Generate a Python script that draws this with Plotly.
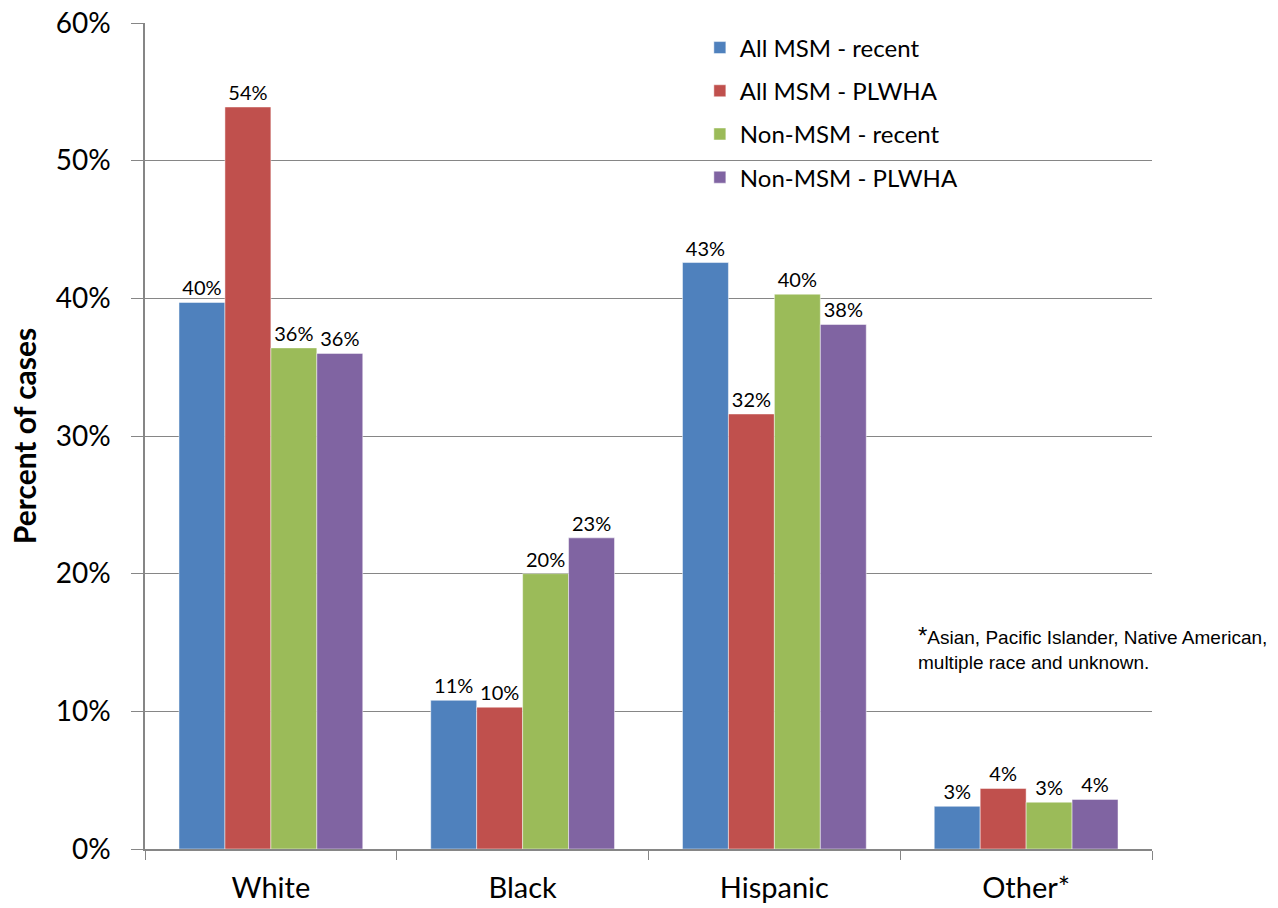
import plotly.graph_objects as go

categories = ["White", "Black", "Hispanic", "Other*"]
series_names = ["All MSM - recent", "All MSM - PLWHA", "Non-MSM - recent", "Non-MSM - PLWHA"]
all_msm_recent = [39.7, 10.8, 42.6, 3.1]
all_msm_plwha = [53.9, 10.3, 31.6, 4.4]
non_msm_recent = [36.4, 20.0, 40.3, 3.4]
non_msm_plwha = [36.0, 22.6, 38.1, 3.6]
colors = ["#4F81BD", "#C0504D", "#9BBB59", "#8064A2"]
y_ticks = [0, 10, 20, 30, 40, 50, 60]
y_tick_labels = ["0%", "10%", "20%", "30%", "40%", "50%", "60%"]

values = [all_msm_recent, all_msm_plwha, non_msm_recent, non_msm_plwha]
font_main = "Lato, 'Open Sans', sans-serif"

fig = go.Figure()
for i, (name, vals, col) in enumerate(zip(series_names, values, colors)):
    fig.add_trace(go.Bar(
        x=categories, y=vals, name=name,
        marker=dict(color=col, line=dict(color="rgba(255,255,255,0.6)", width=0.8)),
        texttemplate="%{y:.0f}%", textposition="outside",
        textfont=dict(size=20, color="#000000", family=font_main),
        cliponaxis=False, legendgroup=f"g{i}",
    ))

fig.update_layout(
    width=1278, height=908,
    margin=dict(l=145, r=126, t=23, b=59, autoexpand=False),
    paper_bgcolor="white", plot_bgcolor="white",
    barmode="group", bargap=0.27, bargroupgap=0,
    font=dict(family=font_main, color="#000000"),
    legend=dict(
        x=0.551, y=0.997, xanchor="left", yanchor="top",
        font=dict(size=24, family=font_main),
        traceorder="grouped", tracegroupgap=9,
        bgcolor="rgba(0,0,0,0)",
    ),
    xaxis=dict(
        showline=True, linecolor="#868686", linewidth=1.5,
        ticks="outside", tickson="boundaries", ticklen=9, tickcolor="#868686",
        tickfont=dict(size=29, family=font_main),
        ticklabelstandoff=12,
        showgrid=False, automargin=False,
    ),
    yaxis=dict(
        range=[0, 60], tickvals=y_ticks, ticktext=y_tick_labels,
        showline=True, linecolor="#868686", linewidth=1.5,
        ticks="outside", ticklen=12, tickcolor="#868686",
        ticklabelstandoff=15,
        showgrid=True, gridcolor="#868686", gridwidth=1,
        tickfont=dict(size=28, family=font_main),
        title=dict(text="<b>Percent of cases</b>", font=dict(size=30, family=font_main), standoff=10),
        zeroline=False, automargin=False,
    ),
    annotations=[dict(
        xref="paper", yref="paper", x=(916 - 145) / 1007, y=(849 - 620) / 826,
        xanchor="left", yanchor="top", align="left", showarrow=False,
        text="<span style='font-size:24px'>*</span>Asian, Pacific Islander, Native American,<br>multiple race and unknown.",
        font=dict(size=19, family="Liberation Sans, Arial, sans-serif", color="#000000"),
    )],
)

fig.write_html("out.html")
